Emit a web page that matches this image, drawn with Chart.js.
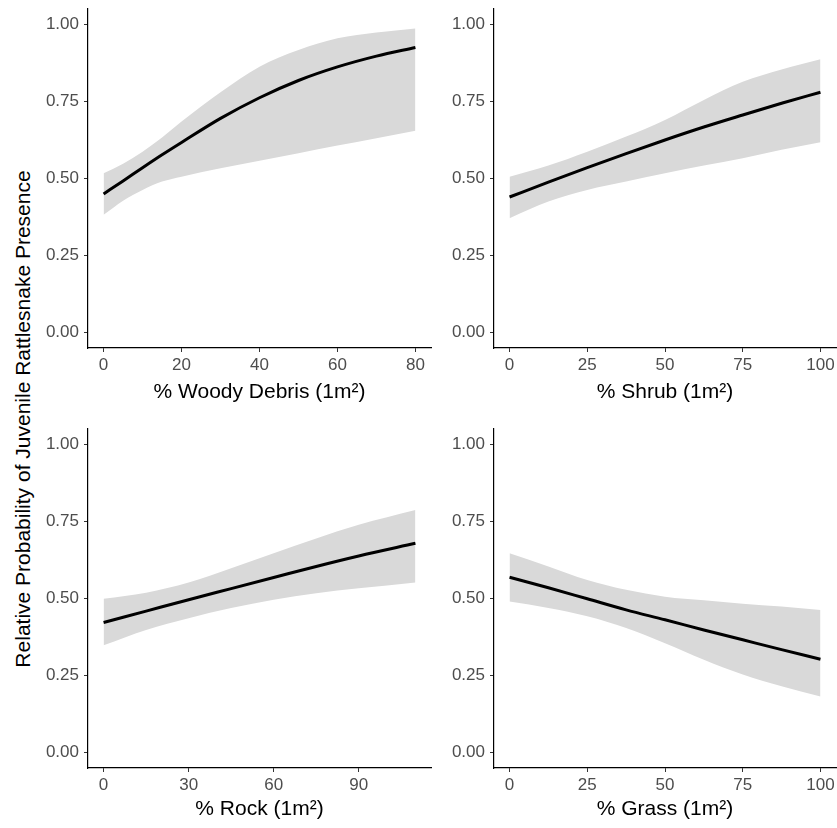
<!DOCTYPE html>
<html><head><meta charset="utf-8">
<script src="https://cdn.jsdelivr.net/npm/chart.js@4/dist/chart.umd.min.js"></script>
<style>
html,body{margin:0;padding:0;background:#fff;}
#wrap{position:relative;width:837px;height:828px;overflow:hidden;background:#fff;}
.panel{position:absolute;}
.panel canvas{display:block;}
#ytitle{position:absolute;left:23px;top:419px;transform:translate(-50%,-50%) rotate(-90deg);white-space:nowrap;font:21px "Liberation Sans",Arial,sans-serif;color:#000;}
</style></head><body>
<div id="wrap">
  <div class="panel" style="left:40px;top:0px;"><canvas id="c1" width="397" height="414"></canvas></div>
  <div class="panel" style="left:446px;top:0px;"><canvas id="c2" width="391" height="414"></canvas></div>
  <div class="panel" style="left:40px;top:420px;"><canvas id="c3" width="397" height="408"></canvas></div>
  <div class="panel" style="left:446px;top:420px;"><canvas id="c4" width="391" height="408"></canvas></div>
  <div id="ytitle">Relative Probability of Juvenile Rattlesnake Presence</div>
</div>
<script>
// ---- Data ----
const yTicks = [0, 0.25, 0.5, 0.75, 1];

const woodyTitle = "% Woody Debris (1m²)";
const woodyTicks = [0, 20, 40, 60, 80];
const woodyX     = [0, 5, 10, 15, 20, 30, 40, 50, 60, 70, 80];
const woodyFit   = [0.450, 0.492, 0.535, 0.577, 0.617, 0.695, 0.762, 0.818, 0.862, 0.897, 0.925];
const woodyLower = [0.382, 0.428, 0.463, 0.490, 0.506, 0.533, 0.558, 0.582, 0.607, 0.631, 0.655];
const woodyUpper = [0.517, 0.548, 0.587, 0.633, 0.685, 0.780, 0.863, 0.917, 0.955, 0.974, 0.987];

const shrubTitle = "% Shrub (1m²)";
const shrubTicks = [0, 25, 50, 75, 100];
const shrubX     = [0, 12.5, 25, 37.5, 50, 62.5, 75, 87.5, 100];
const shrubFit   = [0.440, 0.488, 0.535, 0.581, 0.625, 0.667, 0.706, 0.744, 0.780];
const shrubLower = [0.371, 0.425, 0.463, 0.490, 0.517, 0.542, 0.566, 0.593, 0.618];
const shrubUpper = [0.506, 0.542, 0.587, 0.636, 0.690, 0.755, 0.814, 0.854, 0.887];

const rockTitle = "% Rock (1m²)";
const rockTicks = [0, 30, 60, 90];
const rockX     = [0, 15, 30, 45, 60, 75, 90, 110];
const rockFit   = [0.422, 0.459, 0.496, 0.532, 0.568, 0.604, 0.638, 0.679];
const rockLower = [0.348, 0.398, 0.436, 0.469, 0.496, 0.517, 0.533, 0.552];
const rockUpper = [0.499, 0.519, 0.552, 0.598, 0.647, 0.695, 0.739, 0.787];

const grassTitle = "% Grass (1m²)";
const grassTicks = [0, 25, 50, 75, 100];
const grassX     = [0, 12.5, 25, 37.5, 50, 62.5, 75, 87.5, 100];
const grassFit   = [0.569, 0.535, 0.499, 0.463, 0.431, 0.398, 0.366, 0.334, 0.303];
const grassLower = [0.490, 0.469, 0.442, 0.404, 0.355, 0.301, 0.253, 0.215, 0.182];
const grassUpper = [0.647, 0.604, 0.560, 0.528, 0.506, 0.494, 0.483, 0.474, 0.463];

// ---- Styling ----
Chart.defaults.font.family = '"Liberation Sans", Arial, Helvetica, sans-serif';
const TICK_COLOR = '#4d4d4d';
const RIBBON = '#d9d9d9';

function pts(xs, ys) { return xs.map((x, i) => ({ x: x, y: ys[i] })); }

function makePanel(id, opts) {
  const { title, ticks, xs, fit, lower, upper, padRight, xScaleH, titlePadBottom } = opts;
  const lo = Math.min(...xs), hi = Math.max(...xs);
  const ext = (hi - lo) * 0.05;
  new Chart(document.getElementById(id), {
    type: 'line',
    data: {
      datasets: [
        { data: pts(xs, lower), borderWidth: 0, pointRadius: 0, fill: false, order: 2,
          cubicInterpolationMode: 'monotone', borderColor: 'rgba(0,0,0,0)' },
        { data: pts(xs, upper), borderWidth: 0, pointRadius: 0, fill: '-1', order: 2,
          backgroundColor: RIBBON, cubicInterpolationMode: 'monotone', borderColor: 'rgba(0,0,0,0)' },
        { data: pts(xs, fit), borderWidth: 3, borderColor: '#000', pointRadius: 0, fill: false, order: 1,
          cubicInterpolationMode: 'monotone', borderCapStyle: 'butt' }
      ]
    },
    options: {
      responsive: false,
      animation: false,
      events: [],
      layout: { padding: { top: 9, right: padRight, left: 0, bottom: 0 } },
      plugins: { legend: { display: false }, tooltip: { enabled: false } },
      scales: {
        x: {
          type: 'linear',
          min: lo - ext, max: hi + ext,
          afterBuildTicks: s => { s.ticks = ticks.map(v => ({ value: v })); },
          afterFit: s => { s.height = xScaleH; s.paddingLeft = 0; s.paddingRight = 0; },
          grid: { display: true, drawOnChartArea: false, drawTicks: true, tickLength: 4, color: '#333', lineWidth: 1 },
          border: { display: true, color: '#000', width: 1.2 },
          ticks: { color: TICK_COLOR, font: { size: 17 }, padding: 3, maxRotation: 0, autoSkip: false,
                   callback: v => String(v) },
          title: { display: true, text: title, color: '#000', font: { size: 21 },
                   padding: { top: 0, bottom: titlePadBottom } }
        },
        y: {
          type: 'linear',
          min: -0.05, max: 1.05,
          afterBuildTicks: s => { s.ticks = yTicks.map(v => ({ value: v })); },
          afterFit: s => { s.width = 48; s.paddingTop = 0; s.paddingBottom = 0; },
          grid: { display: true, drawOnChartArea: false, drawTicks: true, tickLength: 4, color: '#333', lineWidth: 1 },
          border: { display: true, color: '#000', width: 1.2 },
          ticks: { color: TICK_COLOR, font: { size: 17 }, padding: 5, autoSkip: false,
                   callback: v => Number(v).toFixed(2) }
        }
      }
    }
  });
}

makePanel('c1', { title: woodyTitle, ticks: woodyTicks, xs: woodyX, fit: woodyFit, lower: woodyLower, upper: woodyUpper,
  padRight: 6, xScaleH: 66, titlePadBottom: 9.4 });
makePanel('c2', { title: shrubTitle, ticks: shrubTicks, xs: shrubX, fit: shrubFit, lower: shrubLower, upper: shrubUpper,
  padRight: 1, xScaleH: 66, titlePadBottom: 9.4 });
makePanel('c3', { title: rockTitle, ticks: rockTicks, xs: rockX, fit: rockFit, lower: rockLower, upper: rockUpper,
  padRight: 6, xScaleH: 60, titlePadBottom: 6.4 });
makePanel('c4', { title: grassTitle, ticks: grassTicks, xs: grassX, fit: grassFit, lower: grassLower, upper: grassUpper,
  padRight: 1, xScaleH: 60, titlePadBottom: 6.4 });
</script>
</body></html>
